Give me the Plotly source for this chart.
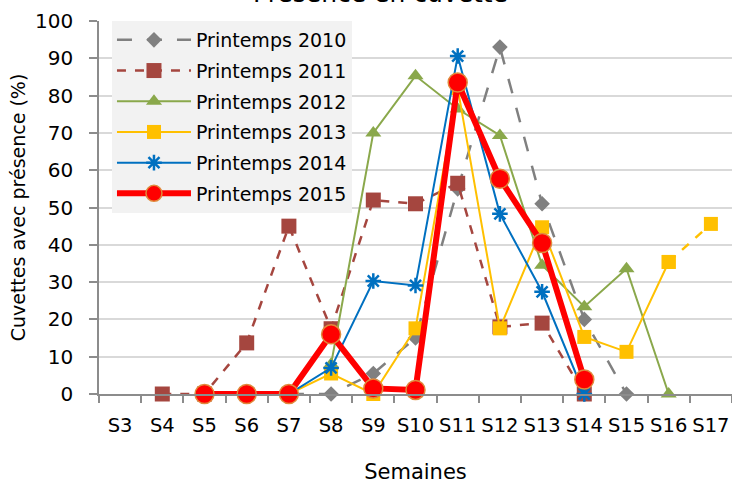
import plotly.graph_objects as go

weeks = ["S3", "S4", "S5", "S6", "S7", "S8", "S9", "S10", "S11", "S12", "S13", "S14", "S15", "S16", "S17"]

p2010 = [None, None, None, None, 0, 0, 5.5, 15, 55, 93, 51, 20, 0, None, None]
p2011 = [None, 0, 0, 13.7, 45, 17.5, 52, 51, 56.5, 18, 19, 0, None, None, None]
p2012 = [None, None, None, None, None, 8, 70, 85.3, 76.4, 69.3, 34.5, 23.4, 33.6, 0, None]
p2013 = [None, None, None, None, 0, 5.5, 0, 17.6, 82, 17.6, 44.7, 15.3, 11.3, 35.4, None]
p2013_ext_weeks = ["S16", "S17"]
p2013_ext = [35.4, 45.6]
p2014 = [None, None, None, None, 0, 7, 30.3, 29.1, 90.6, 48.3, 27.4, 0, None, None, None]
p2015 = [None, None, 0, 0, 0, 16, 1.5, 1.1, 83.5, 57.7, 40.5, 3.9, None, None, None]

FONT = "DejaVu Sans, sans-serif"

fig = go.Figure()

fig.add_trace(go.Scatter(
    x=weeks, y=p2010, name="Printemps 2010", mode="lines+markers",
    line=dict(color="#808080", width=2.5, dash="longdash"),
    marker=dict(symbol="diamond", size=12, color="#808080"),
    cliponaxis=False, legendgroup="a"))
fig.add_trace(go.Scatter(
    x=weeks, y=p2011, name="Printemps 2011", mode="lines+markers",
    line=dict(color="#A5463F", width=2.5, dash="dash"),
    marker=dict(symbol="square", size=15, color="#A5463F"),
    cliponaxis=False, legendgroup="b"))
fig.add_trace(go.Scatter(
    x=weeks, y=p2012, name="Printemps 2012", mode="lines+markers",
    line=dict(color="#8AA84B", width=2),
    marker=dict(symbol="triangle-up", size=14, color="#8AA84B"),
    cliponaxis=False, legendgroup="c"))
fig.add_trace(go.Scatter(
    x=weeks, y=p2013, name="Printemps 2013", mode="lines+markers",
    line=dict(color="#FFC000", width=2),
    marker=dict(symbol="square", size=14, color="#FFC000"),
    cliponaxis=False, legendgroup="d"))
fig.add_trace(go.Scatter(
    x=p2013_ext_weeks, y=p2013_ext, name="Printemps 2013", mode="lines+markers",
    line=dict(color="#FFC000", width=2.5, dash="dash"),
    marker=dict(symbol="square", size=14, color="#FFC000"),
    cliponaxis=False, showlegend=False, legendgroup="d"))
fig.add_trace(go.Scatter(
    x=weeks, y=p2014, name="Printemps 2014", mode="lines+markers",
    line=dict(color="#0070C0", width=2),
    marker=dict(symbol="asterisk-open", size=13, color="#0070C0", line=dict(width=2.5, color="#0070C0")),
    cliponaxis=False, legendgroup="e"))
fig.add_trace(go.Scatter(
    x=weeks, y=p2015, name="Printemps 2015", mode="lines+markers",
    line=dict(color="#FF0000", width=6),
    marker=dict(symbol="circle", size=19, color="#FF0000", line=dict(width=1.5, color="#E08A3C")),
    cliponaxis=False, legendgroup="f"))

fig.update_layout(
    width=732, height=484,
    margin=dict(l=99, r=0, t=21, b=90),
    paper_bgcolor="white", plot_bgcolor="white",
    font=dict(family=FONT, size=19, color="#000000"),
    showlegend=True,
    legend=dict(
        x=0.0205, y=1.0, xanchor="left", yanchor="top",
        bgcolor="#F2F2F2", font=dict(size=19, family=FONT),
        traceorder="grouped", tracegroupgap=3, itemwidth=74,
    ),
    xaxis=dict(
        type="category", categoryorder="array", categoryarray=weeks,
        range=[-0.5, 14.5], tickangle=0, automargin=False,
        showgrid=False, showline=True, linecolor="#8C8C8C", linewidth=1.5,
        ticks="outside", tickson="boundaries", ticklen=7, tickcolor="#8C8C8C", tickwidth=1.5,
        tickfont=dict(size=19.5, family=FONT), ticklabelstandoff=13,
        title=dict(text="Semaines", font=dict(size=21, family=FONT), standoff=39),
        zeroline=False,
    ),
    yaxis=dict(
        range=[0, 100], dtick=10, automargin=False,
        showgrid=True, gridcolor="#D9D9D9", gridwidth=1.5,
        showline=True, linecolor="#8C8C8C", linewidth=1.5,
        ticks="outside", ticklen=8, tickcolor="#8C8C8C", tickwidth=1.5,
        tickfont=dict(size=20, family=FONT), ticklabelstandoff=12,
        ticklabeloverflow="allow",
        title=dict(text="Cuvettes avec présence (%)", font=dict(size=19, family=FONT), standoff=4),
        zeroline=False,
    ),
    annotations=[dict(
        text="Présence en cuvette", xref="paper", yref="paper",
        x=0.445, y=1.029, xanchor="center", yanchor="bottom",
        showarrow=False, font=dict(size=25, family=FONT, color="#000000"),
    )],
)

fig.write_html("out.html", config={"displayModeBar": False},
               post_script="document.body.style.margin='0';")
